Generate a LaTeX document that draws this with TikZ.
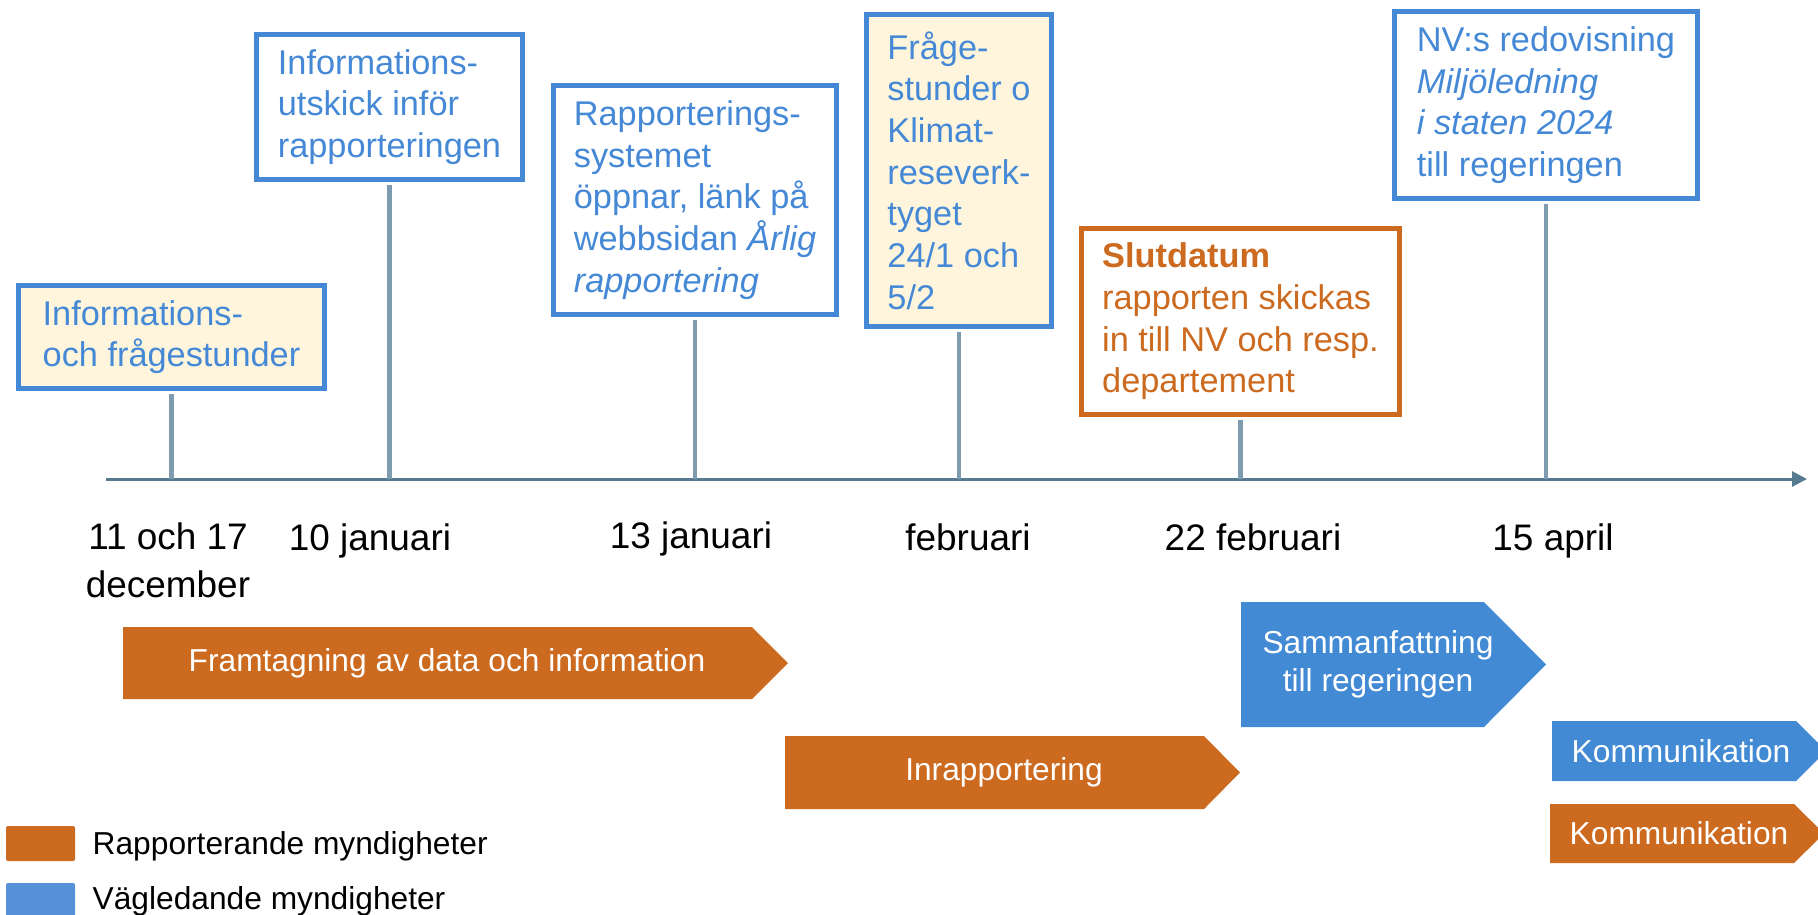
\documentclass[tikz,border=0pt]{standalone}
\usepackage{fontspec}
\setmainfont{Liberation Sans}
\usetikzlibrary{arrows.meta}

\definecolor{nvblue}{HTML}{4589D6}
\definecolor{fasblue}{HTML}{438AD5}
\definecolor{legblue}{HTML}{5690D9}
\definecolor{nvorange}{HTML}{CC6A1F}
\definecolor{cream}{HTML}{FFF5DC}
\definecolor{stemgray}{HTML}{7F9BAF}
\definecolor{axisgray}{HTML}{567B90}

\newcommand{\boxfont}{\fontsize{9.76pt}{11.86pt}\selectfont}
\newcommand{\datefont}{\fontsize{10.5pt}{13.4pt}\selectfont}
\newcommand{\fasfont}{\fontsize{9.02pt}{10.8pt}\selectfont}

\begin{document}
\begin{tikzpicture}[x=0.01cm, y=-0.01cm,
  box/.style={draw=nvblue, line width=1.4pt, text=nvblue, fill=white, align=left, font=\boxfont, inner xsep=0.15cm, inner ysep=0.08cm},
  stem/.style={draw=stemgray, line width=1.15pt, shorten <=0.025cm},
  date/.style={align=center, font=\datefont, anchor=base},
  fas/.style={text=white, align=center, font=\fasfont}]

\useasboundingbox (0,0) rectangle (1818,914);

% tidslinje
\coordinate (ax0) at (106,479);
\coordinate (ax1) at (1807,479);
\draw[axisgray, line width=0.85pt, -{Triangle[length=0.15cm, width=0.15cm]}] (ax0) -- (ax1);

% rutor
\node[box, fill=cream, minimum width=3.06cm, minimum height=1.03cm] (b1) at (171.5,337) {Informations-\\och frågestunder};
\node[box, minimum width=2.66cm, minimum height=1.45cm] (b2) at (389.5,107) {Informations-\\utskick inför\\rapporteringen};
\node[box, minimum width=2.83cm, minimum height=2.29cm] (b3) at (695,200) {Rapporterings-\\systemet\\öppnar, länk på\\webbsidan \textit{Årlig}\\\textit{rapportering}};
\node[box, fill=cream, minimum width=1.85cm, minimum height=3.12cm] (b4) at (959,170.5) {Fråge-\\stunder o\\Klimat-\\reseverk-\\tyget\\24/1 och\\5/2};
\node[box, draw=nvorange, text=nvorange, minimum width=3.18cm, minimum height=1.86cm] (b5) at (1240.5,321.5) {\textbf{Slutdatum}\\rapporten skickas\\in till NV och resp.\\departement};
\node[box, minimum width=3.03cm, minimum height=1.87cm] (b6) at (1546,105) {NV:s redovisning\\\textit{Miljöledning}\\\textit{i staten 2024}\\till regeringen};

\foreach \b in {b1,b2,b3,b4,b5,b6}
  \draw[stem] (\b.south) -- (\b.south |- ax0);

% datum
\node[date] (d1) at (168,597) {11 och 17\\december};
\node[date] (d2) at (370,550) {10 januari};
\node[date] (d3) at (691,548) {13 januari};
\node[date] (d4) at (968,550) {februari};
\node[date] (d5) at (1253,550) {22 februari};
\node[date] (d6) at (1553,550) {15 april};

% faser
\fill[nvorange] (123,627) -- (752,627) -- (788,663) -- (752,699) -- (123,699) -- cycle;
\node[fas] (f1) at (447,663) {Framtagning av data och information};
\fill[nvorange] (785,736) -- (1204,736) -- (1240,772.5) -- (1204,809) -- (785,809) -- cycle;
\node[fas] (f2) at (1004,772.5) {Inrapportering};
\fill[fasblue] (1241,602) -- (1484,602) -- (1546,664.5) -- (1484,727) -- (1241,727) -- cycle;
\node[fas] (f3) at (1378,664.5) {Sammanfattning\\till regeringen};
\fill[fasblue] (1552,721) -- (1796,721) -- (1826,751) -- (1796,781) -- (1552,781) -- cycle;
\node[fas] (f4) at (1681,751) {Kommunikation};
\fill[nvorange] (1550,804) -- (1794,804) -- (1824,833.5) -- (1794,863) -- (1550,863) -- cycle;
\node[fas] (f5) at (1679,833.5) {Kommunikation};

% förklaring
\fill[nvorange, rounded corners=0.02cm] (6,826) rectangle (75,861);
\fill[legblue, rounded corners=0.02cm] (6,883) rectangle (75,918);
\node[anchor=base west, inner sep=0pt, font=\fasfont] (l1) at (92,854) {Rapporterande myndigheter};
\node[anchor=base west, inner sep=0pt, font=\fasfont] (l2) at (92,909) {Vägledande myndigheter};
\end{tikzpicture}
\end{document}
